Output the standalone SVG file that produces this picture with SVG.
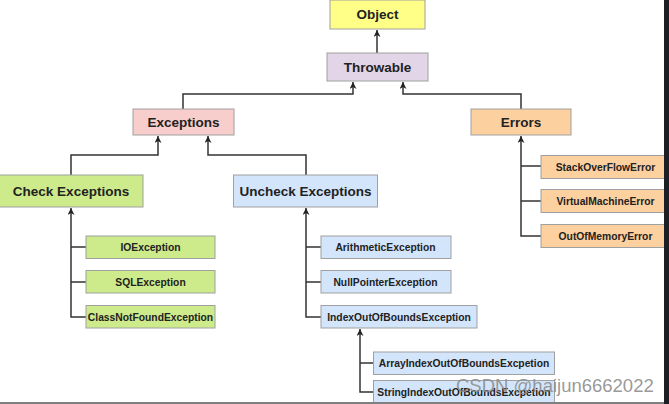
<svg xmlns="http://www.w3.org/2000/svg" width="669" height="404" viewBox="0 0 669 404">
<style>
.b{stroke:#a0a0a0;stroke-width:1}
.y{fill:#ffff88}.p{fill:#e1d5e7}.r{fill:#f8cecc}.o{fill:#fdd0a0}.g{fill:#cdeb8b}.u{fill:#d2e5fb}
.t{font-family:"Liberation Sans",Arial,sans-serif;font-weight:bold;fill:#222;text-anchor:middle;dominant-baseline:central}
.L{font-size:13.5px}.S{font-size:10.3px}
.c{fill:none;stroke:#333;stroke-width:1.5}
</style>
<defs>
<marker id="a" viewBox="0 0 10 10" refX="10" refY="5" markerWidth="8" markerHeight="7" markerUnits="userSpaceOnUse" orient="auto">
<path d="M0 0 L10 5 L0 10 L3 5 Z" fill="#222"/>
</marker>
</defs>
<rect width="669" height="404" fill="#fff"/>
<g id="connectors">
<path class="c" d="M377 53 V30" marker-end="url(#a)"/>
<path class="c" d="M183 109 V94 H353 V82" marker-end="url(#a)"/>
<path class="c" d="M521 109 V94 H403 V82" marker-end="url(#a)"/>
<path class="c" d="M71 175 V155 H158 V136" marker-end="url(#a)"/>
<path class="c" d="M306 176 V155 H208 V136" marker-end="url(#a)"/>
<path class="c" d="M86 317 H71 V208" marker-end="url(#a)"/>
<path class="c" d="M86 247 H71 M86 282 H71"/>
<path class="c" d="M321 317 H306 V208" marker-end="url(#a)"/>
<path class="c" d="M321 247 H306 M321 282 H306"/>
<path class="c" d="M541 236 H521 V136" marker-end="url(#a)"/>
<path class="c" d="M541 166 H521 M541 201 H521"/>
<path class="c" d="M373 392 H360 V329" marker-end="url(#a)"/>
<path class="c" d="M373 363 H360"/>
</g>
<g id="object"><rect class="b y" x="330" y="0" width="95" height="29"/><text class="t L" x="377.5" y="14.5">Object</text></g>
<g id="throwable"><rect class="b p" x="327" y="53" width="101" height="28"/><text class="t L" x="377.5" y="67">Throwable</text></g>
<g id="exceptions"><rect class="b r" x="133" y="109" width="101" height="26"/><text class="t L" x="183.5" y="122">Exceptions</text></g>
<g id="errors"><rect class="b o" x="471" y="109" width="100" height="26"/><text class="t L" x="521" y="122">Errors</text></g>
<g id="check"><rect class="b g" x="-1" y="175" width="144" height="32"/><text class="t L" x="71" y="191">Check Exceptions</text></g>
<g id="uncheck"><rect class="b u" x="233.5" y="175" width="144" height="32"/><text class="t L" x="305.5" y="191">Uncheck Exceptions</text></g>
<g id="ioexception"><rect class="b g" x="86" y="236" width="129" height="22.5"/><text class="t S" x="150.5" y="247.5">IOException</text></g>
<g id="sqlexception"><rect class="b g" x="86" y="270.5" width="129" height="22.5"/><text class="t S" x="150.5" y="282">SQLException</text></g>
<g id="classnotfound"><rect class="b g" x="86" y="305.5" width="129" height="22.5"/><text class="t S" x="150.5" y="317">ClassNotFoundException</text></g>
<g id="arithmetic"><rect class="b u" x="321" y="236" width="130" height="22.5"/><text class="t S" x="385.5" y="247.5">ArithmeticException</text></g>
<g id="nullpointer"><rect class="b u" x="321" y="270.5" width="130" height="22.5"/><text class="t S" x="385.5" y="282">NullPointerException</text></g>
<g id="indexoutofbounds"><rect class="b u" x="321" y="305.5" width="156" height="22.5"/><text class="t S" x="399" y="317">IndexOutOfBoundsException</text></g>
<g id="arrayindex"><rect class="b u" x="373.5" y="352" width="181" height="22.5"/><text class="t S" x="464" y="363.5">ArrayIndexOutOfBoundsExcpetion</text></g>
<g id="stringindex"><rect class="b u" x="373.5" y="380.5" width="181" height="23"/><text class="t S" x="464" y="392">StringIndexOutOfBoundsExcpetion</text></g>
<g id="stackoverflow"><rect class="b o" x="541" y="155.5" width="130" height="23"/><text class="t S" x="605.5" y="167">StackOverFlowError</text></g>
<g id="virtualmachine"><rect class="b o" x="541" y="189.5" width="130" height="23"/><text class="t S" x="605.5" y="201">VirtualMachineError</text></g>
<g id="outofmemory"><rect class="b o" x="541" y="224.5" width="130" height="23"/><text class="t S" x="605.5" y="236">OutOfMemoryError</text></g>
<text x="456" y="391.5" font-family="Liberation Sans,Arial,sans-serif" font-size="18.5" fill="#8c8c8c" fill-opacity="0.9">CSDN @haijun6662022</text>
<rect x="0" y="402" width="669" height="2" fill="#7f7f7f"/>
<rect x="664" y="0" width="5" height="404" fill="#1e1f24"/>
</svg>
